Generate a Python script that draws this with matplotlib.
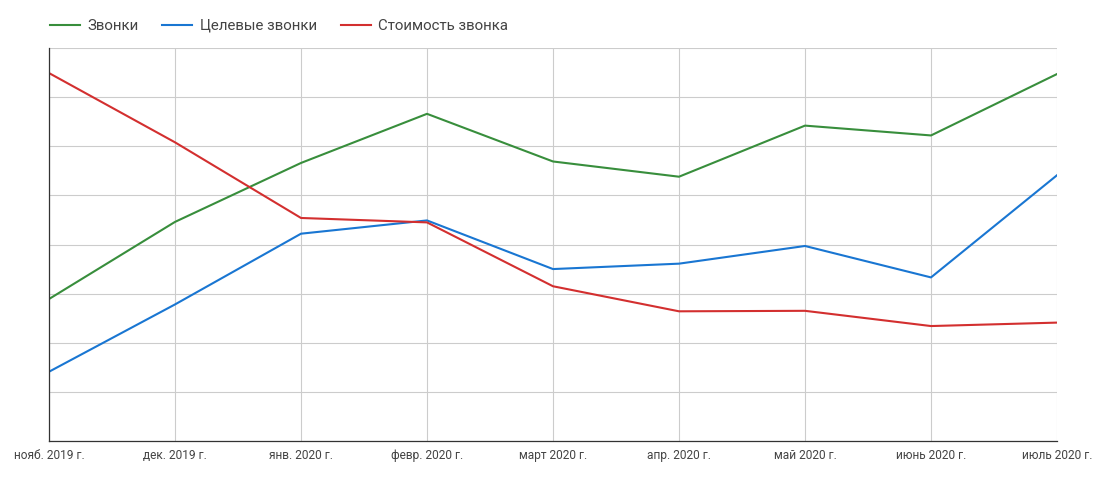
import matplotlib.pyplot as plt

plt.rcParams['font.family'] = ['Roboto', 'DejaVu Sans']

months = ["нояб. 2019 г.", "дек. 2019 г.", "янв. 2020 г.", "февр. 2020 г.",
          "март 2020 г.", "апр. 2020 г.", "май 2020 г.", "июнь 2020 г.",
          "июль 2020 г."]

# values (axis has no labels, scale 0..8 = gridlines)
calls = [2.89, 4.46, 5.66, 6.66, 5.69, 5.38, 6.42, 6.22, 7.47]
target_calls = [1.41, 2.78, 4.22, 4.49, 3.50, 3.61, 3.97, 3.33, 5.41]
call_cost = [7.49, 6.08, 4.54, 4.45, 3.15, 2.64, 2.65, 2.34, 2.41]

series_names = ["Звонки", "Целевые звонки", "Стоимость звонка"]
colors = ["#388e3c", "#1976d2", "#d32f2f"]

fig = plt.figure(figsize=(11.02, 4.79), dpi=100)
ax = fig.add_axes([49 / 1102, 1 - 441 / 479, 1008 / 1102, 393 / 479])

x = list(range(len(months)))
for vals, name, c in zip([calls, target_calls, call_cost], series_names, colors):
    ax.plot(x, vals, color=c, lw=1.5, label=name, zorder=3)

ax.set_xlim(0, len(months) - 1)
ax.set_ylim(0, 8)
ax.set_yticks(range(0, 9))
ax.set_yticklabels([])
ax.set_xticks(x)
ax.set_xticklabels(months, fontsize=8.6, color="#444444")
ax.tick_params(axis='both', length=0)
ax.tick_params(axis='x', pad=6)

ax.grid(True, color="#cccccc", lw=0.8)
ax.set_axisbelow(True)
for s in ['top', 'right']:
    ax.spines[s].set_visible(False)
for s in ['left', 'bottom']:
    ax.spines[s].set_color("#333333")
    ax.spines[s].set_linewidth(0.9)
    ax.spines[s].set_zorder(4)

leg = fig.legend(loc='center left', bbox_to_anchor=(36 / 1102, 1 - 26 / 479),
                 ncol=3, frameon=False, fontsize=10.8, handlelength=2.0,
                 handletextpad=0.5, columnspacing=1.6, labelcolor="#444444")

fig.savefig("out.png", dpi=100)
